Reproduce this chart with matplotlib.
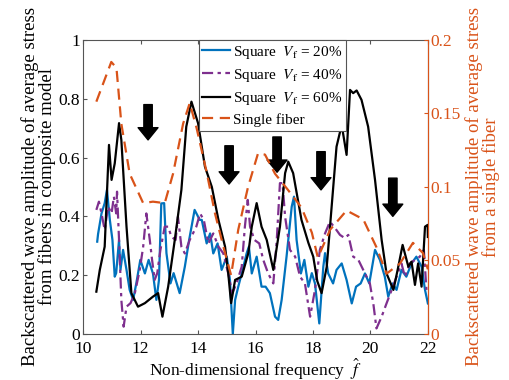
import numpy as np
import matplotlib.pyplot as plt

plt.rcParams['font.family'] = ['Liberation Serif', 'DejaVu Serif']
plt.rcParams['mathtext.fontset'] = 'stix'

# Square array, Vf = 20%
x20 = [10.49, 10.52, 10.64, 10.75, 10.83, 10.93, 11.02, 11.10, 11.15, 11.25, 11.30, 11.39,
       11.51, 11.62, 11.74, 11.85, 11.99, 12.15, 12.28, 12.43, 12.55, 12.64, 12.72, 12.82,
       12.90, 13.04, 13.15, 13.36, 13.54, 13.69, 13.88, 14.06, 14.13, 14.30, 14.42, 14.53,
       14.68, 14.82, 15.00, 15.11, 15.21, 15.29, 15.40, 15.58, 15.69, 15.77, 15.87, 16.04,
       16.21, 16.35, 16.50, 16.68, 16.79, 16.91, 17.08, 17.26, 17.34, 17.43, 17.58, 17.70,
       17.84, 17.96, 18.07, 18.22, 18.36, 18.42, 18.53, 18.70, 18.82, 19.00, 19.17, 19.35,
       19.50, 19.66, 19.81, 19.96, 20.16, 20.33, 20.50, 20.62, 20.77, 20.91, 21.08, 21.25,
       21.43, 21.60, 21.78, 21.90, 22.00]
y20 = [0.314, 0.34, 0.41, 0.445, 0.49, 0.388, 0.32, 0.195, 0.207, 0.32, 0.218, 0.286,
       0.218, 0.15, 0.116, 0.172, 0.252, 0.206, 0.252, 0.206, 0.116, 0.184, 0.444, 0.445,
       0.275, 0.172, 0.207, 0.139, 0.229, 0.32, 0.422, 0.388, 0.388, 0.308, 0.342, 0.274,
       0.308, 0.218, 0.263, 0.184, 0.0, 0.116, 0.161, 0.229, 0.274, 0.297, 0.206, 0.263,
       0.161, 0.161, 0.139, 0.059, 0.048, 0.116, 0.263, 0.433, 0.467, 0.32, 0.206, 0.252,
       0.161, 0.207, 0.172, 0.036, 0.229, 0.275, 0.206, 0.172, 0.218, 0.24, 0.184, 0.104,
       0.161, 0.172, 0.206, 0.172, 0.286, 0.252, 0.195, 0.127, 0.172, 0.15, 0.218, 0.195,
       0.24, 0.263, 0.229, 0.15, 0.104]

# Square array, Vf = 40%
x40 = [10.46, 10.55, 10.64, 10.75, 10.87, 10.99, 11.07, 11.15, 11.18, 11.25, 11.33, 11.41,
       11.51, 11.65, 11.80, 11.97, 12.09, 12.20, 12.32, 12.40, 12.49, 12.58, 12.69, 12.84,
       12.96, 13.07, 13.22, 13.30, 13.42, 13.54, 13.71, 13.94, 14.07, 14.20, 14.36, 14.53,
       14.71, 14.88, 15.05, 15.19, 15.34, 15.52, 15.63, 15.73, 15.81, 15.96, 16.13, 16.27,
       16.44, 16.62, 16.74, 16.85, 16.94, 17.03, 17.20, 17.38, 17.55, 17.72, 17.90, 18.07,
       18.24, 18.42, 18.59, 18.77, 18.94, 19.11, 19.23, 19.40, 19.58, 19.75, 19.98, 20.10,
       20.21, 20.39, 20.56, 20.74, 20.91, 21.08, 21.20, 21.37, 21.55, 21.72, 21.86, 21.95]
y40 = [0.422, 0.45, 0.41, 0.354, 0.433, 0.41, 0.467, 0.41, 0.484, 0.32, 0.116, 0.025,
       0.093, 0.105, 0.139, 0.218, 0.297, 0.41, 0.32, 0.252, 0.184, 0.207, 0.286, 0.365,
       0.365, 0.331, 0.32, 0.399, 0.297, 0.274, 0.32, 0.365, 0.41, 0.388, 0.308, 0.342,
       0.297, 0.274, 0.206, 0.139, 0.172, 0.229, 0.365, 0.456, 0.365, 0.32, 0.308, 0.252,
       0.206, 0.172, 0.32, 0.513, 0.513, 0.399, 0.286, 0.263, 0.195, 0.172, 0.059, 0.15,
       0.286, 0.342, 0.382, 0.36, 0.337, 0.326, 0.337, 0.263, 0.252, 0.218, 0.172, 0.104,
       0.019, 0.059, 0.104, 0.15, 0.195, 0.24, 0.195, 0.24, 0.252, 0.263, 0.286, 0.15]

# Square array, Vf = 60%
x60 = [10.46, 10.58, 10.75, 10.90, 10.99, 11.10, 11.25, 11.33, 11.51, 11.68, 11.91, 12.15,
       12.43, 12.61, 12.76, 12.96, 13.19, 13.42, 13.59, 13.77, 14.00, 14.24, 14.48, 14.71,
       14.94, 15.05, 15.15, 15.29, 15.52, 15.75, 15.87, 16.04, 16.21, 16.39, 16.62, 16.85,
       17.03, 17.14, 17.31, 17.60, 17.84, 18.01, 18.15, 18.30, 18.48, 18.65, 18.82, 19.00,
       19.17, 19.29, 19.40, 19.52, 19.69, 19.92, 20.16, 20.39, 20.56, 20.80, 20.97, 21.12,
       21.32, 21.43, 21.55, 21.66, 21.78, 21.90, 21.99, 22.00]
y60 = [0.144, 0.218, 0.297, 0.643, 0.524, 0.58, 0.717, 0.66, 0.365, 0.139, 0.093, 0.105,
       0.127, 0.139, 0.059, 0.161, 0.32, 0.49, 0.705, 0.79, 0.717, 0.569, 0.5, 0.388,
       0.297, 0.207, 0.105, 0.184, 0.195, 0.275, 0.365, 0.445, 0.365, 0.32, 0.218, 0.365,
       0.547, 0.586, 0.547, 0.388, 0.31, 0.263, 0.18, 0.139, 0.229, 0.433, 0.637, 0.711,
       0.609, 0.83, 0.819, 0.828, 0.796, 0.705, 0.524, 0.32, 0.206, 0.15, 0.229, 0.303,
       0.229, 0.246, 0.167, 0.24, 0.161, 0.365, 0.371, 0.33]

# Single fiber (right axis)
x_single = [10.46, 10.98, 11.16, 11.33, 11.62, 12.09, 12.43, 12.84, 13.13, 13.48, 13.71,
            13.95, 14.30, 14.59, 14.90, 15.15, 15.40, 15.74, 16.09, 16.33, 16.68, 17.13,
            17.60, 17.96, 18.17, 18.60, 19.17, 19.75, 20.21, 20.56, 21.03, 21.48, 21.83, 22.00]
y_single = [0.158, 0.185, 0.181, 0.143, 0.109, 0.089, 0.090, 0.089, 0.109, 0.143, 0.157,
            0.140, 0.110, 0.082, 0.058, 0.040, 0.071, 0.100, 0.123, 0.122, 0.109, 0.098,
            0.086, 0.069, 0.052, 0.071, 0.084, 0.078, 0.059, 0.041, 0.048, 0.062, 0.055, 0.044]

# arrows: x, top, tip (left axis units)
arrow_x = [12.26, 15.08, 16.75, 18.28, 20.78]
arrow_top = [0.78, 0.64, 0.67, 0.62, 0.53]
arrow_tip = [0.66, 0.51, 0.55, 0.49, 0.40]

blue = '#0072BD'
purple = '#7E2F8E'
orange = '#D95319'

fig = plt.figure(figsize=(5.1, 3.8), dpi=100)
ax = fig.add_axes([0.163, 0.121, 0.676, 0.774])
ax2 = ax.twinx()

l1, = ax.plot(x20, y20, color=blue, lw=1.6, label=r'Square  $V_\mathrm{f}$ = 20%')
l2, = ax.plot(x40, y40, color=purple, lw=1.6, ls=(0, (5, 2, 1.5, 2)),
              label=r'Square  $V_\mathrm{f}$ = 40%')
l3, = ax.plot(x60, y60, color='black', lw=1.6, label=r'Square  $V_\mathrm{f}$ = 60%')
l4, = ax2.plot(x_single, y_single, color=orange, lw=1.6, ls=(0, (5, 3)), label='Single fiber')

for xa, yt, yp in zip(arrow_x, arrow_top, arrow_tip):
    ax.annotate('', xy=(xa, yp), xytext=(xa, yt),
                arrowprops=dict(arrowstyle='simple,head_length=0.8,head_width=1.3,tail_width=0.55',
                                color='black', mutation_scale=11, shrinkA=0, shrinkB=0))

ax.set_xlim(10, 22)
ax.set_ylim(0, 1)
ax2.set_ylim(0, 0.2)
ax.set_xticks([10, 12, 14, 16, 18, 20, 22])
ax.set_yticks([0, 0.2, 0.4, 0.6, 0.8, 1])
ax.set_yticklabels(['0', '0.2', '0.4', '0.6', '0.8', '1'])
ax2.set_yticks([0, 0.05, 0.1, 0.15, 0.2])
ax2.set_yticklabels(['0', '0.05', '0.1', '0.15', '0.2'])

ax.tick_params(direction='in', labelsize=12.5, top=True, right=False, length=3, color='#555555', pad=2)
ax.tick_params(axis='x', pad=5)
ax2.tick_params(direction='in', labelsize=12.5, colors=orange, length=3, pad=2)
for s in ['left', 'top', 'bottom']:
    ax.spines[s].set_color('#555555')
ax2.spines['right'].set_color(orange)
ax2.spines['left'].set_visible(False)
ax2.spines['top'].set_visible(False)
ax2.spines['bottom'].set_visible(False)

ax.set_xlabel(r'Non-dimensional frequency  $\hat{f}$', fontsize=12.5)
ax.xaxis.set_label_coords(0.5, -0.078)
ax.xaxis.label.set_va('top')
ax.set_ylabel('Backscattered wave amplitude of average stress\nfrom fibers in composite model',
              fontsize=13.5, labelpad=2, linespacing=0.95)
ax2.set_ylabel('Backscattered wave amplitude of average stress\nfrom a single fiber',
               fontsize=13.5, color=orange, labelpad=3, linespacing=0.95)

leg = ax.legend(handles=[l1, l2, l3, l4], loc='upper left', bbox_to_anchor=(0.335, 1.0),
                borderaxespad=0, fontsize=11, handlelength=1.8, handletextpad=0.2,
                labelspacing=0.4, fancybox=False, framealpha=1, borderpad=0.25)
leg.get_frame().set_edgecolor('#555555')
leg.get_frame().set_linewidth(0.8)

fig.savefig('out.png', dpi=100)
